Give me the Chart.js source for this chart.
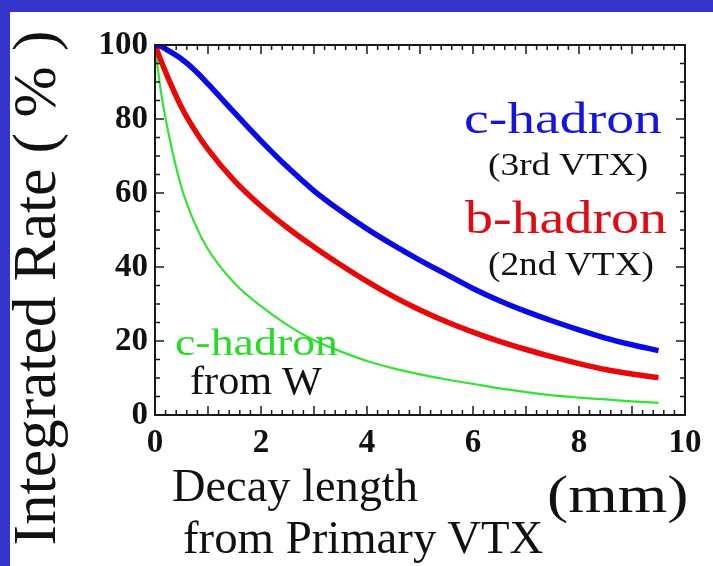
<!DOCTYPE html>
<html>
<head>
<meta charset="utf-8">
<script src="https://cdn.jsdelivr.net/npm/chart.js@4.4.1/dist/chart.umd.min.js"></script>
<style>
  html, body { margin: 0; padding: 0; background: #fff; }
  #wrap { position: relative; width: 713px; height: 566px; overflow: hidden; background: #fff;
          font-family: "Liberation Serif", "Times New Roman", Times, serif; }
  #bandTop  { position: absolute; left: 0; top: 0; width: 713px; height: 12px; background: #3535c9; }
  #bandLeft { position: absolute; left: 0; top: 0; width: 10px; height: 566px; background: #3535c9; }
  #rate { position: absolute; left: 0; top: 0; }
  .lbl { position: absolute; white-space: nowrap; line-height: 1; transform-origin: 0 0; }
</style>
</head>
<body>
<div id="wrap">
  <canvas id="rate" width="713" height="566"></canvas>
  <div id="bandTop"></div>
  <div id="bandLeft"></div>
</div>
<script>
// ═══ data ═══
const decayLength = [0, 0.1, 0.25, 0.5, 0.75, 1, 1.5, 2, 2.5, 3, 3.5, 4, 4.5, 5, 5.5, 6, 6.5, 7, 7.5, 8, 8.5, 9, 9.5];
const cHadron3rd  = [100, 99.7, 98.5, 96.2, 93.2, 89.5, 81.7, 74.1, 67.0, 60.6, 55.2, 50.3, 45.9, 41.8, 38.0, 34.2, 30.9, 28.0, 25.4, 23.0, 20.8, 19.0, 17.4];
const bHadron2nd  = [100, 96.2, 91.0, 83.2, 77.0, 71.8, 63.3, 56.5, 50.6, 45.4, 40.6, 36.1, 32.0, 28.4, 25.2, 22.4, 19.9, 17.7, 15.7, 13.9, 12.3, 11.1, 10.1];
const cHadronW    = [100, 88.5, 76.5, 61.5, 51.8, 44.8, 35.6, 29.4, 24.3, 20.2, 17.2, 14.6, 12.6, 11.0, 9.6, 8.4, 7.2, 6.2, 5.3, 4.7, 4.2, 3.7, 3.3];

const xTicks = [0, 2, 4, 6, 8, 10];
const yTicks = [0, 20, 40, 60, 80, 100];

const serif = '"Liberation Serif", "Times New Roman", Times, serif';

// 텍스트 배치 (위치/크기)
const textLayout = [
    { text: 'c-hadron',         color: '#1414e0', size: 45, left: 464, base: 134, width: 198 },
    { text: '(3rd VTX)',        color: '#111',    size: 32, left: 488, base: 175, width: 160 },
    { text: 'b-hadron',         color: '#e00a14', size: 46, left: 465, base: 234, width: 202 },
    { text: '(2nd VTX)',        color: '#111',    size: 33, left: 488, base: 276, width: 166 },
    { text: 'c-hadron',         color: '#26dc26', size: 38, left: 175, base: 355, width: 163 },
    { text: 'from W',           color: '#111',    size: 40, left: 190, base: 394, width: 132 },
    { text: 'Decay length',     color: '#111',    size: 46, left: 172, base: 502, width: 246 },
    { text: 'from Primary VTX', color: '#111',    size: 46, left: 183, base: 554, width: 360 },
    { text: '(mm)',             color: '#111',    size: 52, left: 547, base: 513, width: 142 }
];

const toPoints = ys => ys.map((y, i) => ({ x: decayLength[i], y }));

// 프레임 + 안쪽 눈금
const framePlugin = {
    id: 'frame',
    afterDatasetsDraw(chart) {
        const { ctx, chartArea: a, scales: { x, y } } = chart;
        ctx.save();
        ctx.strokeStyle = '#1a1a1a';
        ctx.lineWidth = 1.5;
        ctx.beginPath();
        for (let i = 0; i <= 50; i++) {
            const px = x.getPixelForValue(i * 0.2);
            const len = i % 5 === 0 ? 9 : 5;
            ctx.moveTo(px, a.bottom); ctx.lineTo(px, a.bottom - len);
            ctx.moveTo(px, a.top);    ctx.lineTo(px, a.top + len);
        }
        for (let v = 0; v <= 100; v += 5) {
            const py = y.getPixelForValue(v);
            const len = v % 20 === 0 ? 9 : 5;
            ctx.moveTo(a.left, py);  ctx.lineTo(a.left + len, py);
            ctx.moveTo(a.right, py); ctx.lineTo(a.right - len, py);
        }
        ctx.stroke();
        ctx.lineWidth = 2;
        ctx.strokeRect(a.left, a.top, a.right - a.left, a.bottom - a.top);
        ctx.restore();
    }
};

const tickFont = { family: serif, size: 33, weight: 'bold' };

new Chart(document.getElementById('rate').getContext('2d'), {
    type: 'line',
    data: {
        datasets: [
            { data: toPoints(cHadron3rd), borderColor: '#0a0ae6', borderWidth: 5.5 },
            { data: toPoints(bHadron2nd), borderColor: '#e80808', borderWidth: 5.5 },
            { data: toPoints(cHadronW),   borderColor: '#33e233', borderWidth: 2.2 }
        ]
    },
    options: {
        responsive: false,
        animation: false,
        layout: { padding: { top: 45, right: 28, left: 0, bottom: 0 } },
        elements: { point: { radius: 0 }, line: { cubicInterpolationMode: 'monotone' } },
        plugins: { legend: { display: false }, tooltip: { enabled: false } },
        scales: {
            x: {
                type: 'linear', min: 0, max: 10,
                afterFit: s => { s.height = 151; },
                afterBuildTicks: s => { s.ticks = xTicks.map(v => ({ value: v })); },
                grid: { display: false, drawTicks: false },
                border: { display: false },
                ticks: { padding: 9, font: tickFont, color: '#111', maxRotation: 0, autoSkip: false }
            },
            y: {
                type: 'linear', min: 0, max: 100,
                afterFit: s => { s.width = 155; },
                afterBuildTicks: s => { s.ticks = yTicks.map(v => ({ value: v })); },
                grid: { display: false, drawTicks: false },
                border: { display: false },
                ticks: { padding: 7, font: tickFont, color: '#111', autoSkip: false }
            }
        }
    },
    plugins: [framePlugin]
});

// 라벨 (HTML 텍스트)
const wrap = document.getElementById('wrap');
textLayout.forEach(t => {
    const el = document.createElement('div');
    el.className = 'lbl';
    el.textContent = t.text;
    el.style.color = t.color;
    el.style.fontSize = t.size + 'px';
    wrap.appendChild(el);
    const w = el.offsetWidth;
    el.style.left = t.left + 'px';
    el.style.top = (t.base - 0.8375 * t.size) + 'px';
    el.style.transform = `scaleX(${t.width / w})`;
});

// 세로 축 제목
const yTitle = document.createElement('div');
yTitle.className = 'lbl';
yTitle.textContent = 'Integrated Rate ( % )';
yTitle.style.fontSize = '62px';
yTitle.style.color = '#111';
wrap.appendChild(yTitle);
const tw = yTitle.offsetWidth;
yTitle.style.transform =
    `translate(34px, 288px) rotate(-90deg) scale(${515 / tw}, 1) translate(${-tw / 2}px, -31px)`;
</script>
</body>
</html>
